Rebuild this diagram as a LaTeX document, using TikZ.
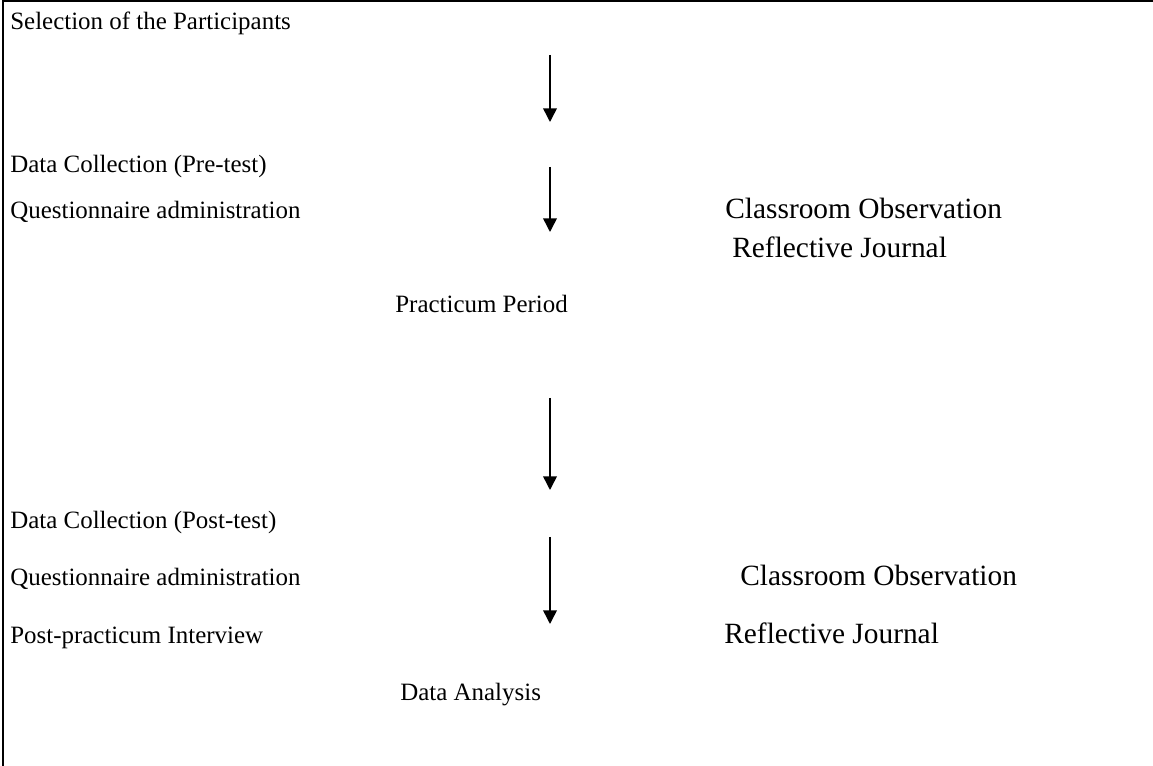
\documentclass[tikz,border=0pt]{standalone}
\usepackage{fontspec}
\setmainfont{Liberation Serif}
\usepackage{tikz}
\usetikzlibrary{arrows.meta,positioning}
\tikzset{
  fdtext/.style={anchor=base west,inner sep=0pt,font=\fontsize{14.6}{17}\selectfont},
  fdside/.style={fdtext,font=\fontsize{17.2}{20}\selectfont},
  fdedge/.style={-{Triangle[length=8pt,width=8pt]},line width=0.9pt},
  fdframe/.style={line width=1.1pt}
}

\begin{document}
\begin{tikzpicture}[x=0.5854pt,y=-0.5854pt]
\useasboundingbox (0,0) rectangle (1153,766);
% frame
\coordinate (ftr) at (1153,1);
\coordinate (ftl) at (3,1);
\coordinate (fbl) at (3,766);
\draw[fdframe] (ftr) -- (ftl) -- (fbl);

% pre-test part
\node[fdtext] (sel) at (10,30) {Selection of the Participants};
\node[fdtext] (pre) at (10,173) {Data Collection (Pre-test)};
\node[fdtext] (preq) at (10,219) {Questionnaire administration};
\node[fdside] (preco) at (725,219) {Classroom Observation};
\node[fdside] (prerj) at (732,258) {Reflective Journal};
\node[fdtext] (prac) at (395,313) {Practicum Period};

% post-test part
\node[fdtext] (post) at (10,529) {Data Collection (Post-test)};
\node[fdtext] (postq) at (10,586) {Questionnaire administration};
\node[fdside] (postco) at (740,586) {Classroom Observation};
\node[fdtext] (postint) at (10,643) {Post-practicum Interview};
\node[fdside] (postrj) at (724,643) {Reflective Journal};
\node[fdtext] (ana) at (400,700) {Data Analysis};

% arrows
\coordinate (a1s) at (550,55);  \coordinate (a1e) at (550,122);
\coordinate (a2s) at (550,167); \coordinate (a2e) at (550,232);
\coordinate (a3s) at (550,398); \coordinate (a3e) at (550,490);
\coordinate (a4s) at (550,537); \coordinate (a4e) at (550,624);
\draw[fdedge] (a1s) -- (a1e);
\draw[fdedge] (a2s) -- (a2e);
\draw[fdedge] (a3s) -- (a3e);
\draw[fdedge] (a4s) -- (a4e);
\end{tikzpicture}
\end{document}
